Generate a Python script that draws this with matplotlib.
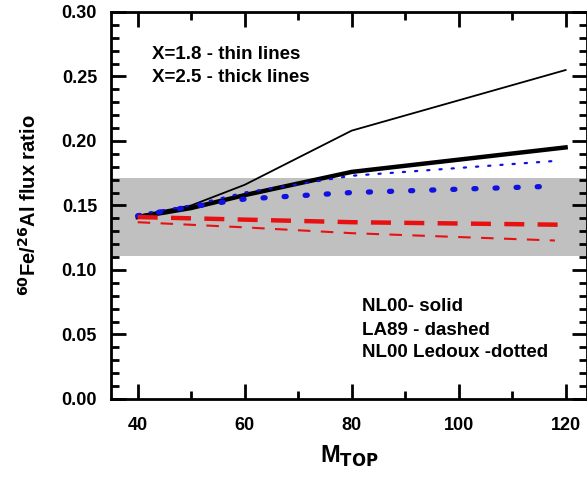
import matplotlib

matplotlib.use("Agg")
import matplotlib.pyplot as plt
from matplotlib.ticker import MultipleLocator, FormatStrFormatter

plt.rcParams["font.family"] = ["Liberation Sans", "DejaVu Sans"]
plt.rcParams["font.weight"] = "bold"

# data
m_top = [40, 50, 60, 80, 120]
nl00_thin = [0.142, 0.150, 0.166, 0.208, 0.255]
nl00_thick = [0.141, 0.148, 0.158, 0.176, 0.195]
ledoux_thin = [0.143, 0.150, 0.160, 0.173, 0.185]
ledoux_thick = [0.142, 0.149, 0.155, 0.160, 0.165]
la89_thin = [0.137, 0.135, 0.133, 0.1285, 0.1225]
la89_thick = [0.141, 0.140, 0.139, 0.137, 0.135]
band_lo, band_hi = 0.111, 0.171

fig = plt.figure(figsize=(5.87, 4.80), dpi=100)
ax = fig.add_axes([0.189, 0.169, 0.811, 0.806])

ax.axhspan(band_lo, band_hi, color="#c0c0c0", zorder=0, lw=0)

ax.plot(m_top, nl00_thin, color="black", lw=1.3, zorder=3)
ax.plot(m_top, nl00_thick, color="black", lw=3.2, zorder=3)
ax.plot(m_top[:-1] + [119], ledoux_thin[:-1] + [0.1848], color="#1010e0", lw=1.6,
        ls=(0, (1, 4.5)), dash_capstyle="round", zorder=3)
ax.plot(m_top[:-1] + [117], ledoux_thick[:-1] + [0.1648], color="#1010e0", lw=3.8,
        ls=(0, (0.4, 3.6)), dash_capstyle="round", zorder=3)
ax.plot(m_top, la89_thick, color="#e81010", lw=3.2, ls=(0, (4.5, 3.0)), zorder=3)
ax.plot(m_top[:-1] + [118], la89_thin[:-1] + [0.1228], color="#e81010", lw=1.5,
        ls=(0, (6, 5)), zorder=3)

ax.set_xlim(35, 124)
ax.set_ylim(0, 0.30)
ax.xaxis.set_major_locator(MultipleLocator(20))
ax.xaxis.set_minor_locator(MultipleLocator(10))
ax.yaxis.set_major_locator(MultipleLocator(0.05))
ax.yaxis.set_minor_locator(MultipleLocator(0.01))
ax.yaxis.set_major_formatter(FormatStrFormatter("%.2f"))
ax.tick_params(which="both", direction="in", top=True, right=True, width=2,
               labelsize=13)
ax.tick_params(axis="y", pad=10)
ax.tick_params(axis="x", pad=13)
ax.tick_params(which="major", length=11)
ax.tick_params(which="minor", length=6)
for s in ax.spines.values():
    s.set_linewidth(2)
for lab in ax.get_xticklabels() + ax.get_yticklabels():
    lab.set_fontweight("bold")

ax.set_xlabel(r"M$_{\mathbf{TOP}}$", fontsize=17, fontweight="bold", labelpad=7)
ax.set_ylabel(r"$^{\mathbf{60}}$Fe/$^{\mathbf{26}}$Al flux ratio", fontsize=14.5,
              fontweight="bold", labelpad=16)

txt = dict(transform=ax.transAxes, fontsize=13.5, fontweight="bold", va="center")
ax.text(0.086, 0.889, "X=1.8 - thin lines", **txt)
ax.text(0.086, 0.830, "X=2.5 - thick lines", **txt)
ax.text(0.527, 0.238, "NL00- solid", **txt)
ax.text(0.527, 0.178, "LA89 - dashed", **txt)
ax.text(0.527, 0.119, "NL00 Ledoux -dotted", **txt)

fig.savefig("out.png", dpi=100)
